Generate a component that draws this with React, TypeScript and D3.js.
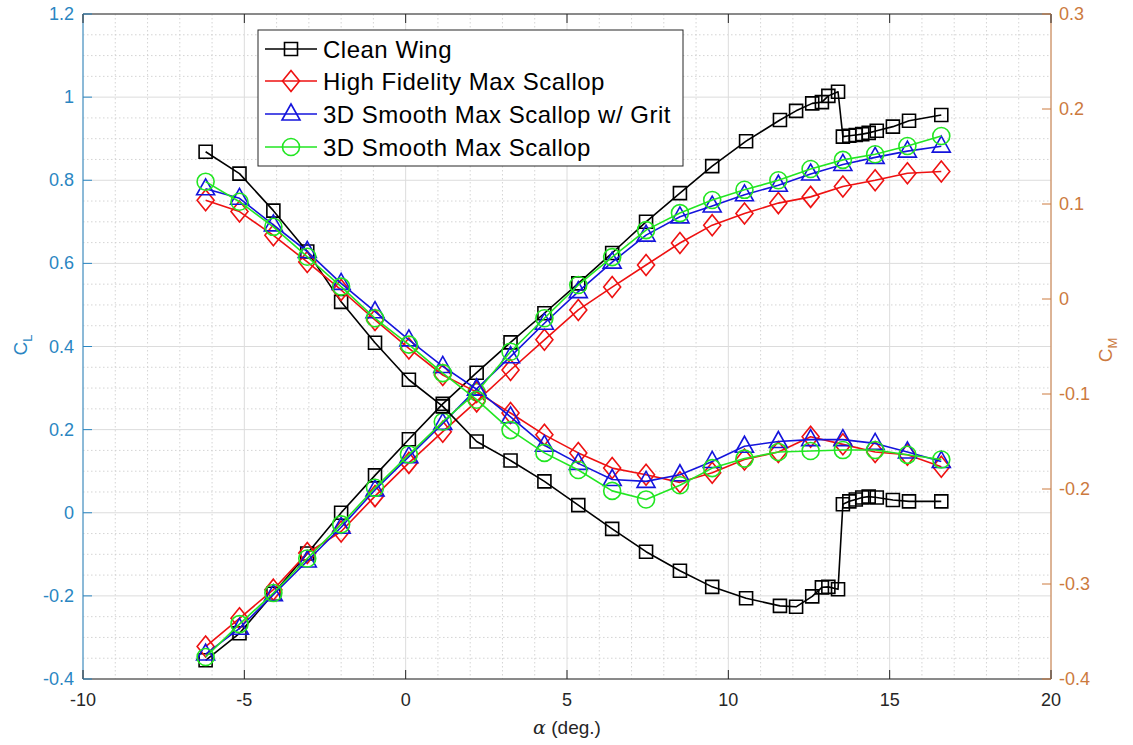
import React from 'react';
import * as d3 from 'd3';

// ---------- data ----------
const alphaScallop = [-6.2, -5.15, -4.1, -3.05, -2.0, -0.95, 0.1, 1.15, 2.2, 3.25, 4.3, 5.35, 6.4, 7.45, 8.5, 9.5, 10.5, 11.55, 12.55, 13.55, 14.55, 15.55, 16.6];
const alphaClean = [-6.2, -5.15, -4.1, -3.05, -2.0, -0.95, 0.1, 1.15, 2.2, 3.25, 4.3, 5.35, 6.4, 7.45, 8.5, 9.5, 10.55, 11.6, 12.1, 12.6, 12.9, 13.1, 13.4, 13.55, 13.75, 13.95, 14.15, 14.35, 14.6, 15.1, 15.6, 16.6];

const clClean = [-0.355, -0.29, -0.195, -0.098, 0.0, 0.09, 0.177, 0.262, 0.337, 0.41, 0.48, 0.552, 0.625, 0.70, 0.769, 0.834, 0.894, 0.945, 0.967, 0.985, 0.988, 1.003, 1.013, 0.905, 0.907, 0.909, 0.911, 0.914, 0.919, 0.929, 0.943, 0.957];
const cmClean = [0.155, 0.132, 0.093, 0.05, -0.003, -0.046, -0.085, -0.113, -0.150, -0.170, -0.192, -0.217, -0.242, -0.266, -0.286, -0.303, -0.315, -0.323, -0.324, -0.313, -0.3035, -0.303, -0.3056, -0.216, -0.213, -0.211, -0.209, -0.208, -0.209, -0.2116, -0.213, -0.213];

const clHighFidelity = [-0.322, -0.254, -0.185, -0.097, -0.045, 0.04, 0.12, 0.195, 0.268, 0.3435, 0.416, 0.488, 0.543, 0.596, 0.649, 0.692, 0.72, 0.745, 0.76, 0.785, 0.80, 0.817, 0.821];
const cmHighFidelity = [0.104, 0.092, 0.067, 0.039, 0.0095, -0.022, -0.052, -0.08, -0.098, -0.12, -0.143, -0.162, -0.178, -0.185, -0.193, -0.183, -0.169, -0.161, -0.145, -0.153, -0.161, -0.164, -0.1765];

const clSmoothGrit = [-0.34, -0.278, -0.197, -0.116, -0.035, 0.055, 0.135, 0.215, 0.298, 0.3755, 0.456, 0.532, 0.603, 0.668, 0.712, 0.738, 0.765, 0.788, 0.815, 0.838, 0.855, 0.87, 0.882];
const cmSmoothGrit = [0.116, 0.106, 0.078, 0.05, 0.0165, -0.0134, -0.043, -0.071, -0.095, -0.124, -0.154, -0.173, -0.19, -0.192, -0.185, -0.171, -0.155, -0.150, -0.148, -0.148, -0.152, -0.161, -0.171];

const clSmooth = [-0.347, -0.268, -0.193, -0.11, -0.028, 0.06, 0.14, 0.219, 0.29, 0.3875, 0.468, 0.548, 0.615, 0.68, 0.721, 0.7525, 0.777, 0.80, 0.827, 0.849, 0.8625, 0.8825, 0.9065];
const cmSmooth = [0.1235, 0.1024, 0.076, 0.0445, 0.013, -0.0203, -0.048, -0.078, -0.106, -0.138, -0.162, -0.18, -0.202, -0.211, -0.196, -0.178, -0.168, -0.161, -0.16, -0.159, -0.159, -0.164, -0.169];

const seriesNames = ['Clean Wing', 'High Fidelity Max Scallop', '3D Smooth Max Scallop w/ Grit', '3D Smooth Max Scallop'];
const xTicks = [-10, -5, 0, 5, 10, 15, 20];
const yLeftTicks = [-0.4, -0.2, 0, 0.2, 0.4, 0.6, 0.8, 1, 1.2];
const yRightTicks = [-0.4, -0.3, -0.2, -0.1, 0, 0.1, 0.2, 0.3];

// ---------- layout ----------
const W = 1133, H = 745;
const L = 83, R = 1051, T = 14, B = 679;
const leftColor = '#2a86c2';
const rightColor = '#cc7a3e';
const axisDark = '#262626';
const font = '"Liberation Sans", Arial, Helvetica, sans-serif';

type Marker = 'square' | 'diamond' | 'triangle' | 'circle';

function markerPath(m: Marker, cx: number, cy: number): string {
  if (m === 'square') { const s = 6.5; return `M${cx - s},${cy - s}H${cx + s}V${cy + s}H${cx - s}Z`; }
  if (m === 'diamond') { const hw = 8.5, hh = 10.5; return `M${cx},${cy - hh}L${cx + hw},${cy}L${cx},${cy + hh}L${cx - hw},${cy}Z`; }
  if (m === 'triangle') { return `M${cx},${cy - 10}L${cx + 9},${cy + 6}L${cx - 9},${cy + 6}Z`; }
  const r = 8.5;
  return `M${cx - r},${cy}A${r},${r} 0 1,0 ${cx + r},${cy}A${r},${r} 0 1,0 ${cx - r},${cy}Z`;
}

const fmt = (v: number) => {
  const s = d3.format('~g')(+v.toFixed(2));
  return s.replace('−', '-');
};

export default function App() {
  const x = d3.scaleLinear().domain([-10, 20]).range([L, R]);
  const yL = d3.scaleLinear().domain([-0.4, 1.2]).range([B, T]);
  const yR = d3.scaleLinear().domain([-0.4, 0.3]).range([B, T]);

  const series = [
    { name: seriesNames[0], color: '#000000', marker: 'square' as Marker, a: alphaClean, cl: clClean, cm: cmClean },
    { name: seriesNames[1], color: '#ee1111', marker: 'diamond' as Marker, a: alphaScallop, cl: clHighFidelity, cm: cmHighFidelity },
    { name: seriesNames[2], color: '#1414dc', marker: 'triangle' as Marker, a: alphaScallop, cl: clSmoothGrit, cm: cmSmoothGrit },
    { name: seriesNames[3], color: '#22e622', marker: 'circle' as Marker, a: alphaScallop, cl: clSmooth, cm: cmSmooth },
  ];

  const minorX = d3.range(-10, 20.001, 1).filter(v => Math.abs(v % 5) > 1e-6);
  const minorY = d3.range(-0.4, 1.2001, 0.05).filter(v => Math.abs(Math.round(v * 100) % 20) > 1e-6);

  const lineGen = (ys: d3.ScaleLinear<number, number>, a: number[], v: number[]) =>
    d3.line<number>().x((_, i) => x(a[i])).y(d => ys(d))(v) || '';

  const renderSeries = (useRight: boolean) =>
    series.map((s, si) => {
      const ys = useRight ? yR : yL;
      const vals = useRight ? s.cm : s.cl;
      return (
        <g key={`${useRight ? 'r' : 'l'}${si}`}>
          <path d={lineGen(ys, s.a, vals)} fill="none" stroke={s.color} strokeWidth={1.6} strokeLinejoin="round" />
          {vals.map((v, i) => (
            <path key={i} d={markerPath(s.marker, x(s.a[i]), ys(v))} fill="none" stroke={s.color} strokeWidth={1.6} />
          ))}
        </g>
      );
    });

  const legendX = 258, legendY = 30, legendW = 425, legendH = 136;
  const rowY = [49, 81, 114, 147];

  return (
    <svg width={W} height={H} style={{ position: 'absolute', left: 0, top: 0, background: '#fff' }} fontFamily={font}>
      <rect x={0} y={0} width={W} height={H} fill="#ffffff" />
      {/* minor grid */}
      {minorX.map(v => (
        <line key={`mx${v}`} x1={x(v)} x2={x(v)} y1={T} y2={B} stroke="#cfcfcf" strokeWidth={0.9} strokeDasharray="1.5,2.5" />
      ))}
      {minorY.map(v => (
        <line key={`my${v}`} x1={L} x2={R} y1={yL(v)} y2={yL(v)} stroke="#cfcfcf" strokeWidth={0.9} strokeDasharray="1.5,2.5" />
      ))}
      {/* major grid */}
      {xTicks.map(v => (
        <line key={`gx${v}`} x1={x(v)} x2={x(v)} y1={T} y2={B} stroke="#dcdcdc" strokeWidth={1} />
      ))}
      {yLeftTicks.map(v => (
        <line key={`gy${v}`} x1={L} x2={R} y1={yL(v)} y2={yL(v)} stroke="#dcdcdc" strokeWidth={1} />
      ))}

      {/* data */}
      {renderSeries(false)}
      {renderSeries(true)}

      {/* axes box */}
      <line x1={L} x2={R} y1={T} y2={T} stroke={axisDark} strokeWidth={1} />
      <line x1={L} x2={R} y1={B} y2={B} stroke={axisDark} strokeWidth={1} />
      <line x1={L} x2={L} y1={T} y2={B} stroke={leftColor} strokeWidth={1} />
      <line x1={R} x2={R} y1={T} y2={B} stroke={rightColor} strokeWidth={1} />

      {/* x ticks */}
      {xTicks.map(v => (
        <g key={`xt${v}`}>
          <line x1={x(v)} x2={x(v)} y1={B} y2={B - 9} stroke={axisDark} />
          <line x1={x(v)} x2={x(v)} y1={T} y2={T + 9} stroke={axisDark} />
          <text x={x(v)} y={700} fontSize={18} textAnchor="middle" dominantBaseline="central" fill="#262626">{fmt(v)}</text>
        </g>
      ))}
      {/* left ticks */}
      {yLeftTicks.map(v => (
        <g key={`yl${v}`}>
          <line x1={L} x2={L + 9} y1={yL(v)} y2={yL(v)} stroke={leftColor} />
          <text x={74} y={yL(v)} fontSize={18} textAnchor="end" dominantBaseline="central" fill={leftColor}>{fmt(v)}</text>
        </g>
      ))}
      {/* right ticks */}
      {yRightTicks.map(v => (
        <g key={`yr${v}`}>
          <line x1={R} x2={R - 9} y1={yR(v)} y2={yR(v)} stroke={rightColor} />
          <text x={1059} y={yR(v)} fontSize={18} textAnchor="start" dominantBaseline="central" fill={rightColor}>{fmt(v)}</text>
        </g>
      ))}

      {/* axis labels */}
      <text x={567} y={727} fontSize={19} textAnchor="middle" dominantBaseline="central" fill="#262626">
        <tspan fontFamily='"DejaVu Serif", "Liberation Serif", serif' fontStyle="italic">α</tspan>
        <tspan> (deg.)</tspan>
      </text>
      <text transform="translate(27,345) rotate(-90)" fontSize={19} textAnchor="middle" fill={leftColor}>
        <tspan>C</tspan><tspan fontSize={13} dy={5}>L</tspan>
      </text>
      <text transform="translate(1112,350) rotate(-90)" fontSize={19} textAnchor="middle" fill={rightColor}>
        <tspan>C</tspan><tspan fontSize={13} dy={5}>M</tspan>
      </text>

      {/* legend */}
      <rect x={legendX} y={legendY} width={legendW} height={legendH} fill="#ffffff" stroke={axisDark} strokeWidth={1} />
      {series.map((s, i) => (
        <g key={`lg${i}`}>
          <line x1={265} x2={317} y1={rowY[i]} y2={rowY[i]} stroke={s.color} strokeWidth={1.6} />
          <path d={markerPath(s.marker, 291, rowY[i])} fill="none" stroke={s.color} strokeWidth={1.6} />
          <text x={323} y={rowY[i]} fontSize={24} letterSpacing={0.5} dominantBaseline="central" fill="#000">{s.name}</text>
        </g>
      ))}
    </svg>
  );
}
